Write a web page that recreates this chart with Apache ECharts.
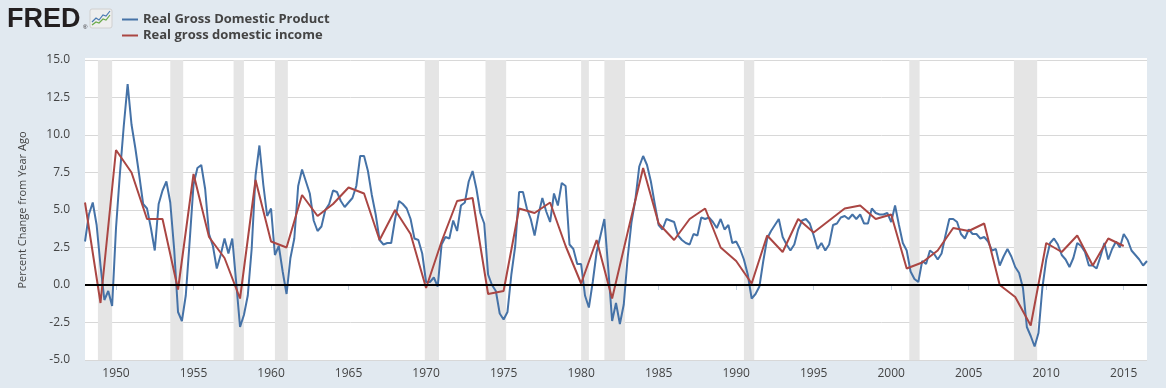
<!DOCTYPE html>
<html>
<head>
<meta charset="utf-8">
<script src="https://cdn.jsdelivr.net/npm/echarts@6/dist/echarts.min.js"></script>
<style>
html,body{margin:0;padding:0;background:#e1e9f0;}
#c{width:1166px;height:388px;}
</style>
</head>
<body>
<div id="c"></div>
<script>
// Real GDP, percent change from year ago, quarterly from 1948Q1
const gdpStartYear = 1948;
const gdpQuarterly = [
  2.9, 4.7, 5.5, 4.0,     // 1948
  1.3, -1.0, -0.4, -1.4,  // 1949
  3.8, 7.4, 10.6, 13.4,   // 1950
  10.7, 9.1, 7.3, 5.4,    // 1951
  5.1, 3.8, 2.3, 5.4,     // 1952
  6.3, 6.9, 5.5, 2.4,     // 1953
  -1.8, -2.4, -0.7, 2.9,  // 1954
  6.7, 7.8, 8.0, 6.4,     // 1955
  3.4, 2.6, 1.1, 2.0,     // 1956
  3.1, 2.1, 3.1, 0.2,     // 1957
  -2.8, -2.0, -0.7, 2.4,  // 1958
  7.3, 9.3, 6.7, 4.6,     // 1959
  5.1, 2.0, 2.6, 0.9,     // 1960
  -0.6, 1.8, 3.1, 6.6,    // 1961
  7.7, 6.9, 6.1, 4.3,     // 1962
  3.6, 3.9, 5.0, 5.4,     // 1963
  6.3, 6.2, 5.6, 5.2,     // 1964
  5.5, 5.8, 6.6, 8.6,     // 1965
  8.6, 7.6, 6.0, 4.7,     // 1966
  3.0, 2.7, 2.8, 2.8,     // 1967
  4.4, 5.6, 5.4, 5.1,     // 1968
  4.4, 3.1, 3.0, 2.1,     // 1969
  0.2, 0.2, 0.5, -0.1,    // 1970
  2.7, 3.2, 3.1, 4.3,     // 1971
  3.6, 5.3, 5.5, 6.9,     // 1972
  7.6, 6.4, 4.8, 4.1,     // 1973
  0.7, 0.0, -0.4, -1.9,   // 1974
  -2.3, -1.8, 0.7, 2.6,   // 1975
  6.2, 6.2, 5.1, 4.4,     // 1976
  3.3, 4.7, 5.8, 4.9,     // 1977
  4.2, 6.1, 5.3, 6.8,     // 1978
  6.6, 2.7, 2.4, 1.4,     // 1979
  1.4, -0.7, -1.5, 0.2,   // 1980
  2.2, 3.3, 4.4, 1.1,     // 1981
  -2.4, -1.2, -2.6, -1.3, // 1982
  1.8, 4.2, 5.7, 7.9,     // 1983
  8.6, 8.0, 6.9, 5.4,     // 1984
  4.0, 3.7, 4.4, 4.3,     // 1985
  4.2, 3.3, 3.0, 2.8,     // 1986
  2.7, 3.4, 3.3, 4.5,     // 1987
  4.4, 4.5, 4.2, 3.8,     // 1988
  4.4, 3.7, 4.0, 2.8,     // 1989
  2.9, 2.4, 1.7, 0.7,     // 1990
  -0.9, -0.6, -0.1, 1.6,  // 1991
  3.1, 3.6, 4.0, 4.4,     // 1992
  3.2, 2.7, 2.3, 2.7,     // 1993
  3.7, 4.3, 4.4, 4.1,     // 1994
  3.3, 2.4, 2.8, 2.3,     // 1995
  2.7, 4.0, 4.1, 4.5,     // 1996
  4.6, 4.4, 4.7, 4.4,     // 1997
  4.7, 4.1, 4.1, 5.1,     // 1998
  4.8, 4.7, 4.7, 4.8,     // 1999
  4.2, 5.3, 4.0, 2.8,     // 2000
  2.3, 0.9, 0.4, 0.2,     // 2001
  1.6, 1.4, 2.3, 2.1,     // 2002
  1.7, 2.1, 3.3, 4.4,     // 2003
  4.4, 4.2, 3.4, 3.1,     // 2004
  3.7, 3.4, 3.4, 3.1,     // 2005
  3.2, 2.9, 2.3, 2.4,     // 2006
  1.3, 1.9, 2.4, 1.9,     // 2007
  1.2, 0.8, -0.2, -2.8,   // 2008
  -3.4, -4.1, -3.2, -0.2, // 2009
  1.7, 2.8, 3.1, 2.7,     // 2010
  2.0, 1.7, 1.2, 1.8,     // 2011
  2.8, 2.6, 2.2, 1.3,     // 2012
  1.3, 1.1, 1.9, 2.8,     // 2013
  1.7, 2.4, 2.9, 2.5,     // 2014
  3.4, 3.0, 2.3, 2.0,     // 2015
  1.7, 1.3, 1.6           // 2016
];

// Real gross domestic income, percent change from year ago, annual from 1948
const gdiStartYear = 1948;
const gdiAnnual = [
  5.5, -1.2, 9.0, 7.5, 4.4, 4.4, -0.3, 7.4, 3.2, 1.8,   // 1948-1957
  -0.9, 7.0, 2.9, 2.5, 6.0, 4.6, 5.4, 6.5, 6.1, 3.0,    // 1958-1967
  5.0, 3.4, -0.2, 2.9, 5.6, 5.8, -0.6, -0.4, 5.1, 4.8,  // 1968-1977
  5.5, 2.6, 0.1, 3.0, -0.9, 3.5, 7.8, 4.1, 3.0, 4.4,    // 1978-1987
  5.1, 2.5, 1.6, 0.1, 3.3, 2.2, 4.4, 3.5, 4.3, 5.1,     // 1988-1997
  5.3, 4.4, 4.7, 1.1, 1.5, 2.3, 3.8, 3.6, 4.1, 0.0,     // 1998-2007
  -0.8, -2.7, 2.8, 2.2, 3.3, 1.3, 3.1, 2.6              // 2008-2015
];

// NBER recessions [start year, start month, end year, end month]
const recessions = [
  [1948, 11, 1949, 10], [1953, 7, 1954, 5], [1957, 8, 1958, 4],
  [1960, 4, 1961, 2], [1969, 12, 1970, 11], [1973, 11, 1975, 3],
  [1980, 1, 1980, 7], [1981, 7, 1982, 11], [1990, 7, 1991, 3],
  [2001, 3, 2001, 11], [2007, 12, 2009, 6]
];

const xTickYears = [1950, 1955, 1960, 1965, 1970, 1975, 1980, 1985, 1990, 1995, 2000, 2005, 2010, 2015];
const seriesNames = ['Real Gross Domestic Product', 'Real gross domestic income'];

const gdpData = gdpQuarterly.map((v, i) => [gdpStartYear + i * 0.25, v]);
const gdiData = gdiAnnual.map((v, i) => [gdiStartYear + i, v]);
const recAreas = recessions.map(r => [
  { xAxis: r[0] + (r[1] - 1) / 12 },
  { xAxis: r[2] + (r[3] - 1) / 12 }
]);

const chart = echarts.init(document.getElementById('c'), null, { renderer: 'canvas' });
const FONT = '"Open Sans", "DejaVu Sans", sans-serif';

chart.setOption({
  animation: false,
  backgroundColor: '#e1e9f0',
  grid: {
    left: 85, right: 19, top: 60, bottom: 28,
    show: true, backgroundColor: '#ffffff', borderWidth: 0
  },
  graphic: [
    { type: 'rect', shape: { x: 85, y: 58, width: 1062, height: 2 }, style: { fill: '#ffffff' }, z: -1 },
    { type: 'text', left: 7, top: 6, style: { text: 'FRED', font: '900 27px "Liberation Sans", Arial, sans-serif', fill: '#231f20' } },
    { type: 'text', left: 83, top: 24, style: { text: '®', font: '6px "Liberation Sans", sans-serif', fill: '#231f20' } },
    { type: 'rect', shape: { x: 90, y: 9, width: 22, height: 19, r: 2 }, style: { fill: '#eeeeee', stroke: '#d0d0d0', lineWidth: 1 } },
    { type: 'polyline', shape: { points: [[92, 22], [96, 18], [99, 20], [103, 15], [106, 16], [110, 11]] }, style: { stroke: '#4a7ab0', lineWidth: 1.2, fill: null } },
    { type: 'polyline', shape: { points: [[92, 25], [96, 22], [99, 23], [103, 19], [106, 20], [110, 15]] }, style: { stroke: '#6aaa4a', lineWidth: 1.2, fill: null } }
  ],
  legend: {
    orient: 'vertical',
    left: 117, top: 8,
    itemWidth: 16, itemHeight: 2, itemGap: 3,
    icon: 'rect',
    textStyle: { color: '#444444', fontSize: 13, fontWeight: 'bold', fontFamily: FONT },
    data: seriesNames
  },
  xAxis: {
    type: 'value',
    min: 1948, max: 2016.5,
    axisLine: { show: true, lineStyle: { color: '#c2d1e0', width: 1 } },
    axisTick: { show: true, customValues: xTickYears, length: 5, lineStyle: { color: '#c2d1e0' } },
    axisLabel: {
      customValues: xTickYears,
      color: '#444444', fontSize: 12, fontFamily: FONT, margin: 8,
      formatter: v => String(Math.round(v))
    },
    splitLine: { show: false }
  },
  yAxis: {
    type: 'value',
    min: -5, max: 15, interval: 2.5,
    name: 'Percent Change from Year Ago',
    nameLocation: 'middle', nameGap: 57, nameRotate: 90,
    nameTextStyle: { color: '#444444', fontSize: 11, fontFamily: FONT },
    axisLine: { show: false },
    axisTick: { show: false },
    axisLabel: { color: '#444444', fontSize: 12, fontFamily: FONT, margin: 15, formatter: v => v.toFixed(1) },
    splitLine: { show: true, lineStyle: { color: '#d8d8d8', width: 1 } }
  },
  series: [
    {
      name: seriesNames[0],
      type: 'line',
      data: gdpData,
      showSymbol: false, symbol: 'none',
      lineStyle: { color: '#4572a7', width: 2 },
      itemStyle: { color: '#4572a7' },
      z: 3,
      markArea: {
        silent: true,
        itemStyle: { color: '#e5e5e5' },
        data: recAreas
      },
      markLine: {
        silent: true, symbol: 'none',
        label: { show: false },
        lineStyle: { color: '#000000', width: 2, type: 'solid' },
        data: [{ yAxis: 0 }]
      }
    },
    {
      name: seriesNames[1],
      type: 'line',
      data: gdiData,
      showSymbol: false, symbol: 'none',
      lineStyle: { color: '#aa4643', width: 2 },
      itemStyle: { color: '#aa4643' },
      z: 4
    }
  ]
});
</script>
</body>
</html>
